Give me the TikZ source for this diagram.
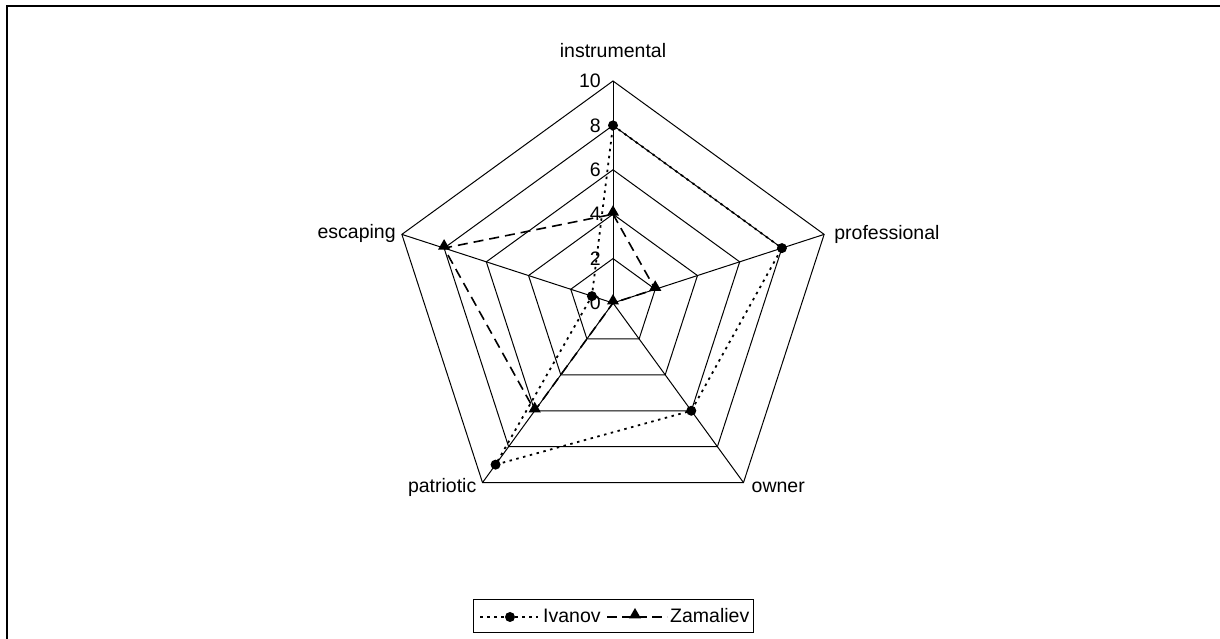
\documentclass[tikz,border=0pt]{standalone}
\usepackage{fontspec}
\setmainfont{Liberation Sans}
\usetikzlibrary{calc,shapes.geometric}
\begin{document}
\begin{tikzpicture}[x=1pt,y=1pt,
  gridline/.style={draw=black,line width=1pt},
  ivline/.style={draw=black,line width=1.8pt,dash pattern=on 2.5pt off 4.5pt},
  zaline/.style={draw=black,line width=1.6pt,dash pattern=on 10pt off 6pt},
  ivmark/.style={circle,fill=black,inner sep=0pt,minimum size=10pt},
  zamark/.style={regular polygon,regular polygon sides=3,fill=black,inner sep=0pt,minimum size=14pt},
  lbl/.style={font=\fontsize{19.5}{22}\selectfont,inner sep=0pt},
  ticklbl/.style={font=\fontsize{19.5}{22}\selectfont,inner sep=0pt,anchor=east}]
\useasboundingbox (0,0) rectangle (1220,639);
% frame
\draw[line width=2pt] (7,0) -- (7,633) -- (1220,633);
\begin{scope}[shift={(613,336)}]
  \coordinate (O) at (0,0);
  % grid pentagons
  \foreach \r in {44.4,88.8,133.2,177.6,222}{
    \draw[gridline] (90:\r) -- (18:\r) -- (-54:\r) -- (-126:\r) -- (162:\r) -- cycle;
  }
  % spokes
  \foreach \a/\n in {90/vi,18/vp,-54/vo,-126/vt,162/ve}{
    \coordinate (\n) at (\a:222);
    \draw[gridline] (O) -- (\n);
  }
  % tick labels
  \foreach \v in {0,2,4,6,8,10}{
    \node[ticklbl] (t\v) at (-12,{22.2*\v}) {\v};
  }
  % axis labels
  \node[lbl,anchor=south] (li) at (90:245) {instrumental};
  \node[lbl,anchor=west] (lp) at ($(vp)+(10,0)$) {professional};
  \node[lbl,anchor=west] (lo) at ($(vo)+(8,-5)$) {owner};
  \node[lbl,anchor=east] (lt) at ($(vt)+(-6,-5)$) {patriotic};
  \node[lbl,anchor=east] (le) at ($(ve)+(-6,1)$) {escaping};
  % Ivanov data: 8,8,6,9,1
  \coordinate (a1) at (90:177.6);
  \coordinate (a2) at (18:177.6);
  \coordinate (a3) at (-54:133.2);
  \coordinate (a4) at (-126:199.8);
  \coordinate (a5) at (162:22.2);
  % Zamaliev data: 4,2,0,6,8
  \coordinate (b1) at (90:88.8);
  \coordinate (b2) at (18:44.4);
  \coordinate (b3) at (0,0);
  \coordinate (b4) at (-126:133.2);
  \coordinate (b5) at (162:177.6);
  \draw[ivline] (a1) -- (a2) -- (a3) -- (a4) -- (a5) -- cycle;
  \draw[zaline] (b1) -- (b2) -- (b3) -- (b4) -- (b5) -- cycle;
  \foreach \p in {a1,a2,a3,a4,a5}{ \node[ivmark] (m\p) at (\p) {}; }
  \foreach \p in {b1,b2,b3,b4,b5}{ \node[zamark,yshift=2pt] (m\p) at (\p) {}; }
\end{scope}
% legend
\node[draw=black,line width=1pt,minimum width=280pt,minimum height=33pt,inner sep=0pt] (leg) at (613,22.5) {};
\coordinate (l1a) at (480,22);
\coordinate (l1b) at (538,22);
\draw[ivline] (l1a) -- (l1b);
\node[ivmark] (legdot) at (510,22) {};
\node[lbl,anchor=west] (legiv) at (543,23) {Ivanov};
\coordinate (l2a) at (607,22);
\coordinate (l2b) at (667,22);
\draw[zaline,dash pattern=on 10pt off 5pt] (l2a) -- (l2b);
\node[zamark,yshift=2pt] (legtri) at (635,22) {};
\node[lbl,anchor=west] (legza) at (670,23) {Zamaliev};
\end{tikzpicture}
\end{document}
